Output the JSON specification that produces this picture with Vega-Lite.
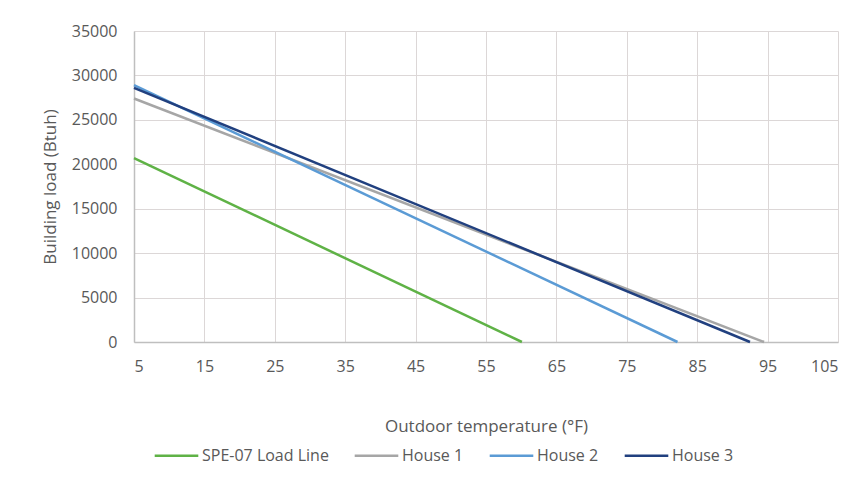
{
  "$schema": "https://vega.github.io/schema/vega-lite/v6.json",
  "autosize": {"type": "none"},
  "width": 704,
  "height": 311,
  "padding": {"left": 134, "top": 31, "right": 28, "bottom": 144},
  "background": "white",
  "config": {
    "font": "Open Sans",
    "view": {"stroke": null},
    "axis": {
      "labelColor": "#595959",
      "titleColor": "#595959",
      "labelFontSize": 16,
      "titleFontSize": 17,
      "titleFontWeight": "normal",
      "gridColor": "#DCD7D7",
      "gridWidth": 1,
      "domainColor": "#BFBFBF",
      "domainWidth": 1.5,
      "ticks": false
    }
  },
  "data": {
    "values": [
      {"series": "SPE-07 Load Line", "temp": 5, "load": 20700},
      {"series": "SPE-07 Load Line", "temp": 60.1, "load": 0},
      {"series": "House 1", "temp": 5, "load": 27400},
      {"series": "House 1", "temp": 94.5, "load": 0},
      {"series": "House 2", "temp": 5, "load": 28900},
      {"series": "House 2", "temp": 82.2, "load": 0},
      {"series": "House 3", "temp": 5, "load": 28600},
      {"series": "House 3", "temp": 92.5, "load": 0}
    ]
  },
  "mark": {"type": "line", "strokeWidth": 2.5},
  "encoding": {
    "x": {
      "field": "temp",
      "type": "quantitative",
      "scale": {"domain": [5, 105], "nice": false, "zero": false},
      "axis": {
        "values": [5, 15, 25, 35, 45, 55, 65, 75, 85, 95, 105],
        "format": "d",
        "title": "Outdoor temperature (°F)",
        "labelPadding": 16,
        "titlePadding": 44
      }
    },
    "y": {
      "field": "load",
      "type": "quantitative",
      "scale": {"domain": [0, 35000], "nice": false},
      "axis": {
        "values": [0, 5000, 10000, 15000, 20000, 25000, 30000, 35000],
        "format": "d",
        "title": "Building load (Btuh)",
        "labelPadding": 17,
        "titlePadding": 12
      }
    },
    "color": {
      "field": "series",
      "type": "nominal",
      "sort": ["SPE-07 Load Line", "House 1", "House 2", "House 3"],
      "scale": {
        "domain": ["SPE-07 Load Line", "House 1", "House 2", "House 3"],
        "range": ["#5FB246", "#A6A6A6", "#5B9BD5", "#21407F"]
      },
      "legend": {
        "title": null,
        "orient": "none",
        "direction": "horizontal",
        "legendX": 19,
        "legendY": 401,
        "symbolType": "stroke",
        "symbolSize": 1900,
        "symbolStrokeWidth": 2.5,
        "labelFontSize": 16,
        "labelColor": "#595959",
        "labelOffset": 2,
        "columnPadding": 20
      }
    }
  }
}
